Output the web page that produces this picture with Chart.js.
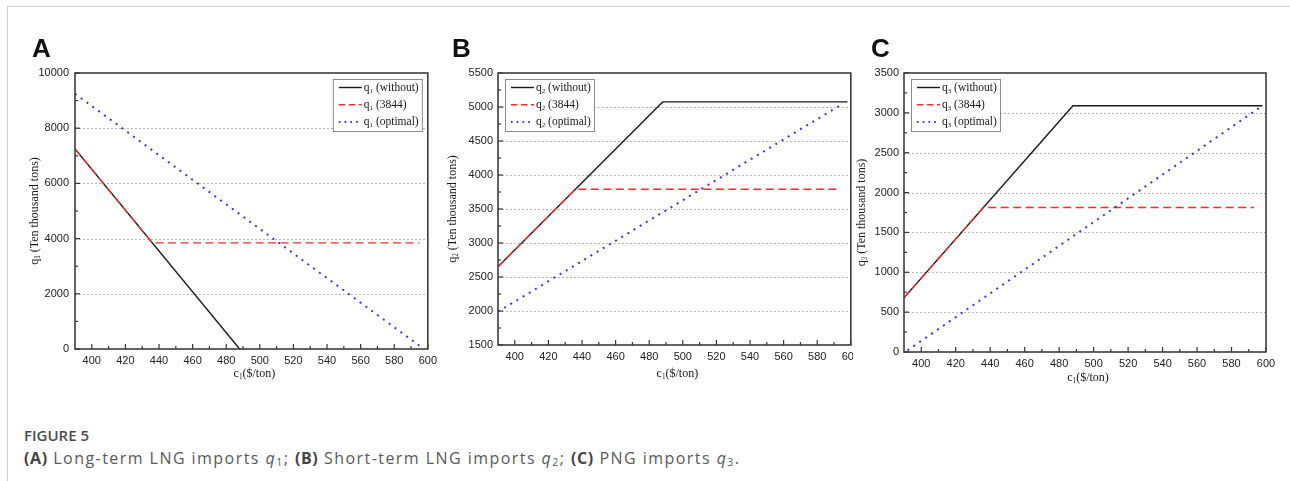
<!DOCTYPE html>
<html>
<head>
<meta charset="utf-8">
<script src="https://cdn.jsdelivr.net/npm/chart.js@4.4.0/dist/chart.umd.min.js"></script>
<style>
  html, body { margin: 0; padding: 0; background: #fff; }
  body { width: 1290px; height: 481px; position: relative; overflow: hidden; }
  #frame { position: absolute; left: 7px; top: 6px; width: 1300px; height: 500px;
           border-top: 1px solid #cfcfcf; border-left: 1px solid #cfcfcf; }
  .panel { position: absolute; top: 60px; background: #fff; }
  .letter { position: absolute; top: 33px; font: bold 26px "Liberation Sans", Arial, sans-serif; color: #111; }
  #figno { position: absolute; left: 24px; top: 425px; font: 600 15px "Open Sans", sans-serif; color: #4d4d4d; }
  #caption { position: absolute; left: 24px; top: 447px; font: 16px "Open Sans", sans-serif; letter-spacing: 1.45px;
             color: #5a5a5a; white-space: nowrap; }
  #caption b { font-weight: 700; color: #444; letter-spacing: 0.6px; }
  #caption sub { font-size: 10.5px; vertical-align: -2px; font-style: normal; }
</style>
</head>
<body>
<div id="frame"></div>
<canvas id="chartA" class="panel" width="430" height="330" style="left:12px"></canvas>
<canvas id="chartB" class="panel" width="420" height="330" style="left:445px"></canvas>
<canvas id="chartC" class="panel" width="429" height="330" style="left:853px"></canvas>
<div class="letter" style="left:32px">A</div>
<div class="letter" style="left:452px">B</div>
<div class="letter" style="left:871px">C</div>
<div id="figno">FIGURE 5</div>
<div id="caption"><b>(A)</b> Long-term LNG imports <i>q</i><sub>1</sub>; <b>(B)</b> Short-term LNG imports <i>q</i><sub>2</sub>; <b>(C)</b> PNG imports <i>q</i><sub>3</sub>.</div>

<script>
// ---- data ----
const xTicks = [400, 420, 440, 460, 480, 500, 520, 540, 560, 580, 600];

// panel A: long-term LNG q1
const aWithoutX = [390, 488];
const aWithoutY = [7250, 0];
const aCapX = [390, 436, 595];
const aCapY = [7250, 3844, 3844];
const aOptX = [390, 595];
const aOptY = [9250, 120];
const aYTicks = [0, 2000, 4000, 6000, 8000, 10000];

// panel B: short-term LNG q2
const bWithoutX = [390, 488, 598];
const bWithoutY = [2650, 5075, 5075];
const bCapX = [390, 436, 593];
const bCapY = [2650, 3790, 3790];
const bOptX = [390, 595];
const bOptY = [1990, 5045];
const bYTicks = [1500, 2000, 2500, 3000, 3500, 4000, 4500, 5000, 5500];

// panel C: PNG q3
const cWithoutX = [390, 488, 598];
const cWithoutY = [680, 3090, 3090];
const cCapX = [390, 436, 593];
const cCapY = [680, 1812, 1812];
const cOptX = [392, 596];
const cOptY = [20, 3060];
const cYTicks = [0, 500, 1000, 1500, 2000, 2500, 3000, 3500];

const seriesNames = ['(without)', '(3844)', '(optimal)'];

// ---- styles ----
const lineStyles = [
  { color: '#1a1a1a', width: 1.4, dash: [] },
  { color: '#ff2b2b', width: 1.4, dash: [8, 4.5] },
  { color: '#3535f0', width: 2, dash: [2, 5.2] }
];
const serif = '"Liberation Serif", "Times New Roman", serif';
const sans = '"Liberation Sans", Arial, sans-serif';

// draw "q_1 (x)" with a small lowered subscript
function drawRich(ctx, str, x, y, size, align) {
  const parts = str.split(/_(\d)/);
  const widths = parts.map((t, i) => {
    ctx.font = (i % 2 ? size * 0.6 : size) + 'px ' + serif;
    return ctx.measureText(t).width;
  });
  const total = widths.reduce((a, b) => a + b, 0);
  let cx = align === 'center' ? x - total / 2 : x;
  ctx.textAlign = 'left';
  ctx.textBaseline = 'middle';
  parts.forEach((t, i) => {
    ctx.font = (i % 2 ? size * 0.6 : size) + 'px ' + serif;
    ctx.fillText(t, cx, i % 2 ? y + size * 0.3 : y);
    cx += widths[i];
  });
  return total;
}

const panelDeco = {
  id: 'panelDeco',
  beforeDatasetsDraw(chart, args, o) {
    const { ctx, chartArea: ca, scales: { y } } = chart;
    ctx.save();
    ctx.strokeStyle = '#b8b8b8';
    ctx.lineWidth = 1;
    ctx.setLineDash([2, 2]);
    o.yTicks.forEach(v => {
      if (v === y.min || v === y.max) return;
      const py = Math.round(y.getPixelForValue(v)) + 0.5;
      ctx.beginPath(); ctx.moveTo(ca.left, py); ctx.lineTo(ca.right, py); ctx.stroke();
    });
    ctx.restore();
  },
  afterDraw(chart, args, o) {
    const { ctx, chartArea: ca, scales: { x, y } } = chart;
    ctx.save();
    // inward ticks, major + minor
    ctx.strokeStyle = '#333';
    ctx.lineWidth = 1.2;
    for (let i = 0; i < xTicks.length; i++) {
      const px = x.getPixelForValue(xTicks[i]);
      ctx.beginPath(); ctx.moveTo(px, ca.bottom); ctx.lineTo(px, ca.bottom - 5); ctx.stroke();
      if (i < xTicks.length - 1) {
        const pm = x.getPixelForValue((xTicks[i] + xTicks[i + 1]) / 2);
        ctx.beginPath(); ctx.moveTo(pm, ca.bottom); ctx.lineTo(pm, ca.bottom - 3); ctx.stroke();
      }
    }
    for (let i = 0; i < o.yTicks.length; i++) {
      const py = y.getPixelForValue(o.yTicks[i]);
      ctx.beginPath(); ctx.moveTo(ca.left, py); ctx.lineTo(ca.left + 5, py); ctx.stroke();
      if (i < o.yTicks.length - 1) {
        const pm = y.getPixelForValue((o.yTicks[i] + o.yTicks[i + 1]) / 2);
        ctx.beginPath(); ctx.moveTo(ca.left, pm); ctx.lineTo(ca.left + 3, pm); ctx.stroke();
      }
    }
    // frame
    ctx.strokeStyle = '#3c3c3c';
    ctx.lineWidth = 1.6;
    ctx.strokeRect(ca.left, ca.top, ca.right - ca.left, ca.bottom - ca.top);

    // axis titles
    ctx.fillStyle = '#1a1a1a';
    drawRich(ctx, 'c_1($/ton)', (ca.left + ca.right) / 2 + 3, ca.bottom + o.xTitleOff, 12, 'center');
    ctx.save();
    ctx.translate(ca.left - o.yTitleOff, (ca.top + ca.bottom) / 2);
    ctx.rotate(-Math.PI / 2);
    drawRich(ctx, o.qName + ' (Ten thousand tons)', 0, 0, 12, 'center');
    ctx.restore();

    // legend box
    const lw = 89, lh = 52;
    const lx = o.legendRight ? ca.right - 6 - lw : ca.left + 7;
    const ly = ca.top + 6;
    ctx.fillStyle = '#fff';
    ctx.fillRect(lx, ly, lw, lh);
    ctx.strokeStyle = '#8a8a8a';
    ctx.lineWidth = 1;
    ctx.strokeRect(lx + 0.5, ly + 0.5, lw, lh);
    chart.data.datasets.forEach((ds, i) => {
      const ry = ly + 8.5 + i * 17.2;
      ctx.strokeStyle = ds.borderColor;
      ctx.lineWidth = ds.borderWidth;
      ctx.setLineDash(ds.borderDash.map(d => d * 0.8));
      ctx.beginPath(); ctx.moveTo(lx + 6, ry); ctx.lineTo(lx + 29, ry); ctx.stroke();
      ctx.setLineDash([]);
      ctx.fillStyle = '#1a1a1a';
      drawRich(ctx, ds.label, lx + 31, ry, 11.5, 'left');
    });
    ctx.restore();
  }
};

function makeChart(id, qName, xs, ys, yTicks, layout) {
  const datasets = xs.map((xv, i) => ({
    label: qName + ' ' + seriesNames[i],
    data: xv.map((v, j) => ({ x: v, y: ys[i][j] })),
    borderColor: lineStyles[i].color,
    borderWidth: lineStyles[i].width,
    borderDash: lineStyles[i].dash,
    borderCapStyle: 'butt',
    pointRadius: 0,
    tension: 0,
    fill: false,
    order: 3 - i
  }));
  return new Chart(document.getElementById(id), {
    type: 'line',
    data: { datasets },
    options: {
      responsive: false,
      animation: false,
      events: [],
      layout: { padding: { top: layout.padTop, right: layout.padRight, left: 0, bottom: 0 } },
      plugins: {
        legend: { display: false },
        tooltip: { enabled: false },
        panelDeco: { yTicks, qName, legendRight: layout.legendRight, xTitleOff: layout.xTitleOff, yTitleOff: layout.yTitleOff }
      },
      scales: {
        x: {
          type: 'linear', min: 390, max: 600,
          grid: { display: false, drawTicks: false }, border: { display: false },
          afterBuildTicks: sc => { sc.ticks = xTicks.map(v => ({ value: v })); },
          afterFit: sc => { sc.height = layout.xAxisH; },
          ticks: {
            font: { family: sans, size: 11 }, color: '#222', padding: 5,
            maxRotation: 0, autoSkip: false, callback: v => String(v)
          }
        },
        y: {
          type: 'linear', min: yTicks[0], max: yTicks[yTicks.length - 1],
          grid: { display: false, drawTicks: false }, border: { display: false },
          afterBuildTicks: sc => { sc.ticks = yTicks.map(v => ({ value: v })); },
          afterFit: sc => { sc.width = layout.yAxisW; },
          ticks: { font: { family: sans, size: 11 }, color: '#222', padding: layout.yPad, callback: v => String(v) }
        }
      }
    },
    plugins: [panelDeco]
  });
}

makeChart('chartA', 'q_1',
  [aWithoutX, aCapX, aOptX], [aWithoutY, aCapY, aOptY], aYTicks,
  { padTop: 13, padRight: 10, xAxisH: 41, yAxisW: 63, yPad: 6, legendRight: true, xTitleOff: 25, yTitleOff: 40 });
makeChart('chartB', 'q_2',
  [bWithoutX, bCapX, bOptX], [bWithoutY, bCapY, bOptY], bYTicks,
  { padTop: 13, padRight: 14, xAxisH: 45, yAxisW: 53, yPad: 5, legendRight: false, xTitleOff: 29, yTitleOff: 45 });
makeChart('chartC', 'q_3',
  [cWithoutX, cCapX, cOptX], [cWithoutY, cCapY, cOptY], cYTicks,
  { padTop: 13, padRight: 16, xAxisH: 38, yAxisW: 51, yPad: 5, legendRight: false, xTitleOff: 25.5, yTitleOff: 42 });
</script>
</body>
</html>
